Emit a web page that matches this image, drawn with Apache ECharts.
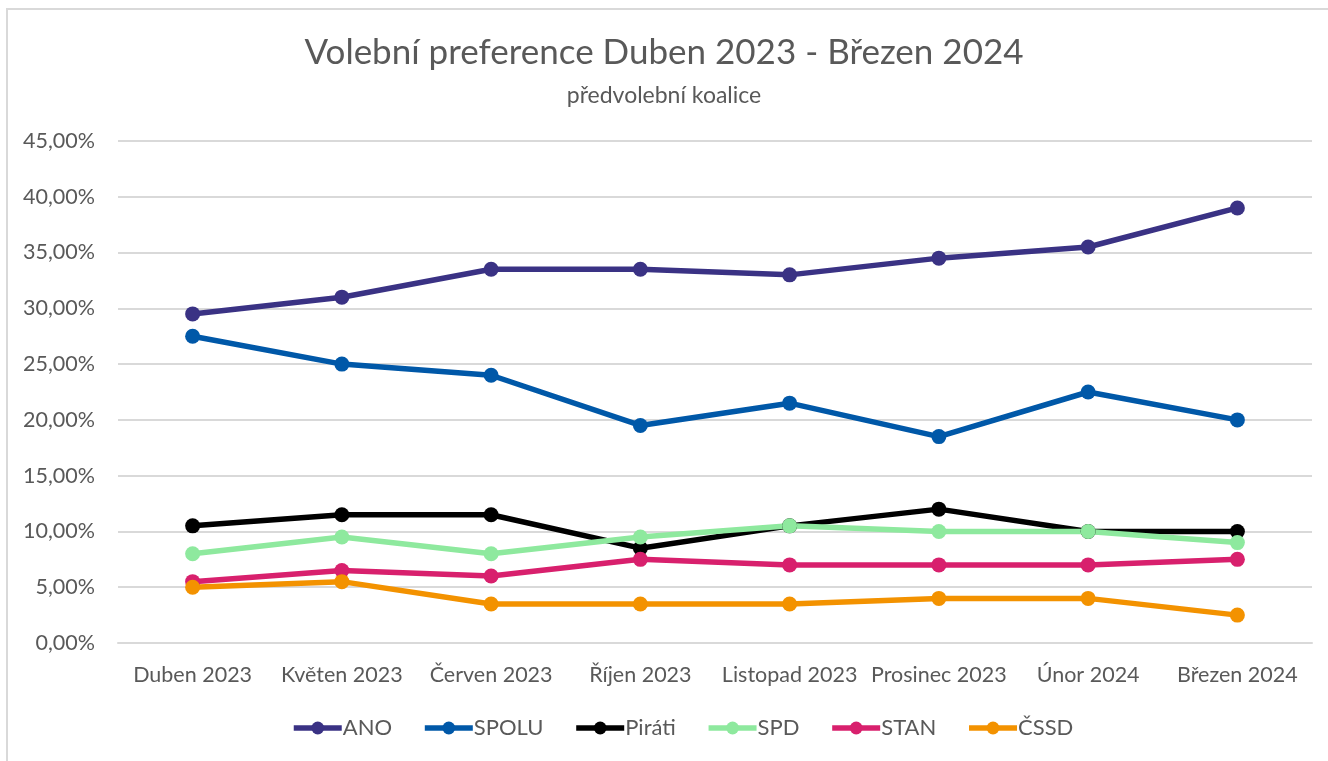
<!DOCTYPE html>
<html>
<head>
<meta charset="utf-8">
<title>Volební preference</title>
<script src="https://cdn.jsdelivr.net/npm/echarts@6/dist/echarts.min.js"></script>
<style>
  html, body { margin: 0; padding: 0; background: #fff; }
  #frame {
    position: absolute; left: 6px; top: 8px; right: 0; bottom: 0;
    border-left: 2px solid #d9d9d9; border-top: 2px solid #d9d9d9;
  }
  #main { position: absolute; left: 0; top: 0; width: 1328px; height: 761px; }
</style>
</head>
<body>
<div id="frame"></div>
<div id="main"></div>
<script>
  // data (percent)
  var months = ['Duben 2023', 'Květen 2023', 'Červen 2023', 'Říjen 2023', 'Listopad 2023', 'Prosinec 2023', 'Únor 2024', 'Březen 2024'];
  var ano   = [29.5, 31, 33.5, 33.5, 33, 34.5, 35.5, 39];
  var spolu = [27.5, 25, 24, 19.5, 21.5, 18.5, 22.5, 20];
  var pirati = [10.5, 11.5, 11.5, 8.5, 10.5, 12, 10, 10];
  var spd   = [8, 9.5, 8, 9.5, 10.5, 10, 10, 9];
  var stan  = [5.5, 6.5, 6, 7.5, 7, 7, 7, 7.5];
  var cssd  = [5, 5.5, 3.5, 3.5, 3.5, 4, 4, 2.5];

  var names = ['ANO', 'SPOLU', 'Piráti', 'SPD', 'STAN', 'ČSSD'];
  var values = [ano, spolu, pirati, spd, stan, cssd];
  var colors = ['#3a3284', '#0058a8', '#000000', '#8ee99e', '#d8206d', '#f39200'];

  var font = 'Lato, "Open Sans", sans-serif';
  var grey = '#595959';

  var series = names.map(function(n, i) {
    return {
      name: n,
      type: 'line',
      data: values[i],
      symbol: 'circle',
      symbolSize: 15,
      lineStyle: { width: 5.5, color: colors[i] },
      itemStyle: { color: colors[i] },
      animation: false
    };
  });

  var myChart = echarts.init(document.getElementById('main'));
  var option = {
    backgroundColor: 'transparent',
    title: {
      text: 'Volební preference Duben 2023 - Březen 2024',
      subtext: 'předvolební koalice',
      left: 'center',
      top: 30,
      itemGap: 14,
      textStyle: { fontFamily: font, fontSize: 35, fontWeight: 'normal', color: grey },
      subtextStyle: { fontFamily: font, fontSize: 23, color: grey }
    },
    color: colors,
    legend: {
      data: names,
      bottom: 17,
      left: 286,
      itemWidth: 48,
      itemHeight: 16,
      itemGap: 30,
      lineStyle: { width: 5.5 },
      textStyle: { fontFamily: font, fontSize: 22, color: grey, padding: [0, 0, 0, -4] }
    },
    grid: { left: 118, right: 16, top: 141, bottom: 118 },
    xAxis: {
      type: 'category',
      data: months,
      boundaryGap: true,
      axisLine: { lineStyle: { color: '#d9d9d9', width: 2 } },
      axisTick: { show: false },
      axisLabel: { fontFamily: font, fontSize: 21.5, color: grey, margin: 21, interval: 0 }
    },
    yAxis: {
      type: 'value',
      min: 0,
      max: 45,
      interval: 5,
      axisLine: { show: false },
      axisTick: { show: false },
      splitLine: { lineStyle: { color: '#d9d9d9', width: 2 } },
      axisLabel: {
        fontFamily: font, fontSize: 21.5, color: grey, margin: 23,
        formatter: function(v) { return v.toFixed(2).replace('.', ',') + '%'; }
      }
    },
    series: series
  };
  myChart.setOption(option);
</script>
</body>
</html>
